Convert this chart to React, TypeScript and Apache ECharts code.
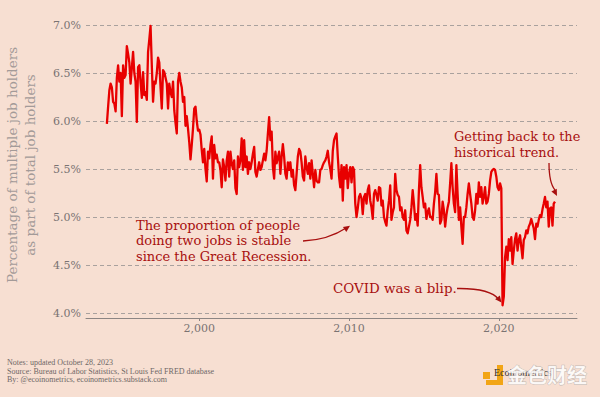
import React, { useEffect, useRef } from "react";
import * as echarts from "echarts";

// First observation in the picture: November 1993, monthly thereafter
const START_YEAR = 1993;
const START_MONTH = 11;

const values1993to1999 = [
  5.97, 6.15,
  6.32, 6.39, 6.35, 6.2, 6.18, 6.1, 6.45, 6.58, 6.41, 6.5, 6.05, 6.58,
  6.45, 6.48, 6.78, 6.7, 6.61, 6.39, 6.55, 6.72, 6.5, 6.41, 5.99, 6.56,
  6.58, 6.4, 6.24, 6.51, 6.27, 6.3, 6.22, 6.72, 6.85, 6.99, 6.58, 6.2,
  6.41, 6.39, 6.5, 6.66, 6.61, 6.35, 6.13, 6.53, 6.51, 6.45, 6.39, 6.13,
  6.39, 6.3, 6.25, 6.41, 6.11, 5.98, 5.87, 6.41, 6.5, 6.41, 6.35, 6.2,
  6.25, 5.95, 6.05, 5.92, 5.78, 5.6, 5.75, 5.92, 6.13, 6.15, 6.0, 5.9,
];
const values2000to2009 = [
  5.91, 5.86, 5.7, 5.57, 5.71, 5.5, 5.37, 5.68, 5.61, 5.75, 5.84, 5.4,
  5.75, 5.61, 5.65, 5.57, 5.57, 5.49, 5.31, 5.6, 5.52, 5.38, 5.59, 5.68,
  5.42, 5.68, 5.56, 5.5, 5.59, 5.3, 5.24, 5.63, 5.52, 5.59, 5.82, 5.49,
  5.8, 5.52, 5.63, 5.45, 5.57, 5.5, 5.57, 5.66, 5.73, 5.47, 5.42, 5.5,
  5.57, 5.49, 5.52, 5.59, 5.66, 5.59, 5.69, 5.87, 6.04, 5.8, 5.89, 5.52,
  5.4, 5.68, 5.56, 5.62, 5.68, 5.45, 5.63, 5.76, 5.63, 5.45, 5.4, 5.57,
  5.49, 5.57, 5.42, 5.49, 5.33, 5.28, 5.45, 5.63, 5.71, 5.68, 5.57, 5.42,
  5.38, 5.63, 5.52, 5.45, 5.56, 5.4, 5.59, 5.45, 5.31, 5.49, 5.38, 5.36,
  5.36, 5.49, 5.5, 5.54, 5.57, 5.59, 5.63, 5.69, 5.57, 5.5, 5.4, 5.69,
  5.8, 5.84, 5.87, 5.63, 5.42, 5.31, 5.54, 5.17, 5.52, 5.4, 5.54, 5.3,
];
const values2010to2019 = [
  5.45, 5.52, 5.36, 5.52, 5.49, 5.14, 5.0, 5.09, 5.21, 5.24, 5.19, 5.03,
  5.21, 5.24, 5.14, 5.28, 5.33, 5.17, 5.1, 4.98, 5.24, 5.28, 5.23, 5.17,
  5.31, 5.3, 5.12, 5.17, 5.0, 4.95, 4.91, 5.07, 5.17, 5.33, 4.97, 5.05,
  5.1, 5.45, 5.28, 5.23, 5.21, 5.07, 5.1, 5.0, 4.97, 5.07, 4.86, 4.83,
  4.9, 4.97, 5.1, 5.28, 5.14, 4.97, 5.03, 4.91, 5.28, 5.54, 5.31, 5.21,
  5.1, 5.14, 4.98, 5.05, 5.09, 5.0, 5.0, 4.97, 5.14, 5.26, 5.45, 5.24,
  5.23, 4.93, 4.97, 5.16, 5.07, 4.9, 5.02, 5.1, 5.16, 5.35, 5.56, 5.31,
  5.14, 5.05, 5.54, 5.24, 4.97, 5.1, 4.9, 4.72, 5.0, 5.0, 5.1, 5.24,
  5.35, 5.24, 5.14, 5.0, 4.97, 5.07, 5.24, 5.14, 5.36, 5.21, 5.31, 5.14,
  5.21, 5.31, 5.14, 5.16, 5.24, 5.38, 5.47, 5.49, 5.5, 5.49, 5.42, 5.31,
];
const values2020to2023 = [
  5.28, 5.35, 5.3, 4.08, 4.17, 4.58, 4.69, 4.55, 4.77, 4.65, 4.79, 4.51,
  4.65, 4.77, 4.83, 4.65, 4.76, 4.81, 4.69, 4.57, 4.76, 4.79, 4.86, 4.83,
  4.9, 4.93, 4.98, 4.93, 4.88, 4.77, 4.93, 4.9, 4.97, 5.02, 5.0, 5.08,
  5.14, 5.21, 5.1, 5.16, 4.9, 5.09, 5.1, 4.91, 5.14, 5.16,
];

const yTicks = [4.0, 4.5, 5.0, 5.5, 6.0, 6.5, 7.0];
const xTickYears = [2000, 2010, 2020];

const yTitle = "Percentage of multiple job holders\nas part of total job holders";
const noteLines = [
  "Notes: updated October 28, 2023",
  "Source: Bureau of Labor Statistics, St Louis Fed FRED database",
  "By: @ecoinometrics, ecoinometrics.substack.com",
];
const annotStable = ["The proportion of people", "doing two jobs is stable", "since the Great Recession."];
const annotCovid = "COVID was a blip.";
const annotTrend = ["Getting back to the", "historical trend."];

const BG = "#f7dfd2";
const RED = "#e80000";
const DARKRED = "#a80f0f";
const SERIF = "'DejaVu Serif', 'Liberation Serif', serif";

function txt(text: string, x: number, y: number, size: number, fill: string, align = "left", family = SERIF, extra: any = {}) {
  return {
    type: "text",
    x,
    y,
    z: 100,
    style: {
      text,
      fill,
      fontSize: size,
      fontFamily: family,
      align,
      textAlign: align,
      verticalAlign: "middle",
      textVerticalAlign: "middle",
      ...extra,
    },
  };
}

function arrowHead(tip: [number, number], from: [number, number]) {
  const dx = tip[0] - from[0];
  const dy = tip[1] - from[1];
  const len = Math.sqrt(dx * dx + dy * dy);
  const ux = dx / len, uy = dy / len;
  const px = -uy, py = ux;
  const bx = tip[0] - ux * 6.5, by = tip[1] - uy * 6.5;
  return {
    type: "polygon",
    z: 100,
    shape: { points: [[tip[0], tip[1]], [bx + px * 3, by + py * 3], [bx - px * 3, by - py * 3]] },
    style: { fill: DARKRED },
  };
}

function curve(x1: number, y1: number, cx: number, cy: number, x2: number, y2: number) {
  return {
    type: "bezierCurve",
    z: 100,
    shape: { x1, y1, cpx1: cx, cpy1: cy, x2, y2 },
    style: { stroke: DARKRED, lineWidth: 1.3, fill: "none" },
  };
}

export default function App() {
  const ref = useRef<HTMLDivElement>(null);

  useEffect(() => {
    document.body.style.margin = "0";
    if (!ref.current) return;
    const chart = echarts.init(ref.current, null, { renderer: "svg" });

    const allValues = [...values1993to1999, ...values2000to2009, ...values2010to2019, ...values2020to2023];
    const data = allValues.map((v, i) => [START_YEAR + (START_MONTH - 1 + i) / 12, v]);

    const graphics: any[] = [];
    graphics.push({
      type: "text",
      x: 21,
      y: 165,
      rotation: Math.PI / 2,
      z: 100,
      style: {
        text: yTitle,
        fill: "#a39a98",
        fontSize: 13.5,
        fontFamily: SERIF,
        lineHeight: 18,
        align: "center",
        textAlign: "center",
        verticalAlign: "middle",
        textVerticalAlign: "middle",
      },
    });
    annotStable.forEach((t, k) => graphics.push(txt(t, 136, 225 + k * 15.5, 13, DARKRED)));
    graphics.push(txt(annotCovid, 333, 288, 13.4, DARKRED));
    annotTrend.forEach((t, k) => graphics.push(txt(t, 454, 136 + k * 16, 12.9, DARKRED)));
    noteLines.forEach((t, k) =>
      graphics.push(txt(t, 7, 362.5 + k * 8.5, 8, "#6e6766", "left", "'Liberation Serif', serif"))
    );

    // arrows
    graphics.push(curve(303, 241, 328, 240, 347, 227.5));
    graphics.push(arrowHead([350, 225.8], [338, 234]));
    graphics.push(curve(457, 288.5, 490, 288, 499, 299.5));
    graphics.push(arrowHead([501.5, 302.5], [494, 293]));
    graphics.push(curve(549, 163, 549, 183, 555, 190));
    graphics.push(arrowHead([557, 196], [552, 186]));

    // watermark / logo
    graphics.push({ type: "rect", z: 90, shape: { x: 483, y: 372, width: 7, height: 7 }, style: { fill: "#f2a516" } });
    graphics.push({ type: "rect", z: 90, shape: { x: 497, y: 365, width: 6, height: 20 }, style: { fill: "#f2a516" } });
    graphics.push({ type: "rect", z: 90, shape: { x: 486, y: 380, width: 17, height: 5 }, style: { fill: "#f2a516" } });
    graphics.push(txt("Ecoinometrics", 494, 372, 10, "#333333", "left", "'Liberation Serif', serif"));
    graphics.push(
      txt("金色财经", 507, 374, 20, "rgba(255,255,255,0.85)", "left", "'Noto Sans CJK SC', sans-serif", {
        fontWeight: "bold",
        stroke: "rgba(150,150,150,0.6)",
        lineWidth: 0.8,
      })
    );

    chart.setOption({
      animation: false,
      backgroundColor: BG,
      grid: { left: 86, right: 23, top: 25, bottom: 84, containLabel: false },
      xAxis: {
        type: "value",
        min: 1992.44,
        max: 2025.22,
        offset: 5,
        axisLine: { show: true, lineStyle: { color: "#8c8583", width: 1 } },
        axisTick: { show: true, customValues: xTickYears, length: 3, lineStyle: { color: "#8c8583" } },
        axisLabel: {
          customValues: xTickYears,
          margin: 5,
          color: "#7a7372",
          fontSize: 11,
          fontFamily: SERIF,
        },
        splitLine: { show: false },
      },
      yAxis: {
        type: "value",
        min: yTicks[0],
        max: yTicks[yTicks.length - 1],
        interval: 0.5,
        axisLine: { show: false },
        axisTick: { show: false },
        axisLabel: {
          margin: 5,
          color: "#7a7372",
          fontSize: 11,
          fontFamily: SERIF,
          formatter: (v: number) => v.toFixed(1) + "%",
        },
        splitLine: { show: true, lineStyle: { color: "#a9a19e", width: 1, type: [4, 3] } },
      },
      series: [
        {
          type: "line",
          data,
          showSymbol: false,
          clip: false,
          lineStyle: { color: RED, width: 2.3, join: "round" },
          z: 5,
        },
      ],
      graphic: graphics,
    });

    return () => chart.dispose();
  }, []);

  return <div ref={ref} style={{ position: "fixed", left: 0, top: 0, width: 600, height: 397 }} />;
}
